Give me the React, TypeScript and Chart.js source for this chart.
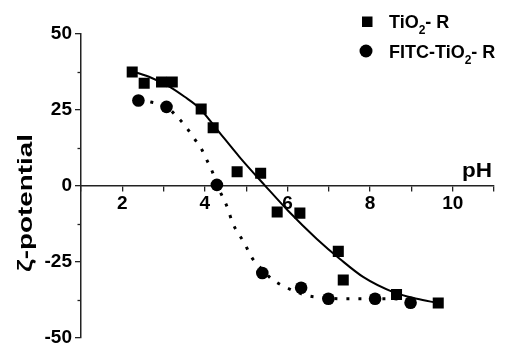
import React, { useEffect, useRef } from 'react';
import { Chart, registerables } from 'chart.js';

Chart.register(...registerables);

const tio2PH = [2.24, 2.53, 2.95, 3.21, 3.91, 4.2, 4.78, 5.35, 5.75, 6.3, 7.23, 7.35, 8.64, 9.65];
const tio2Zeta = [37.5, 33.8, 34.2, 34.2, 25.3, 19.1, 4.6, 4.1, -8.6, -9.0, -21.6, -31.0, -35.8, -38.6];
const fitcPH = [2.39, 3.07, 4.29, 5.39, 6.33, 6.99, 8.12, 8.98];
const fitcZeta = [28.1, 26.0, 0.3, -28.7, -33.6, -37.2, -37.2, -38.5];

// Fitted curves
const tio2FitPH = [2.27, 2.7, 3.15, 3.5, 3.88, 4.29, 4.85, 5.46, 6.02, 6.71, 7.27, 7.84, 8.56, 9.13, 9.64];
const tio2FitZeta = [37.6, 35.6, 32.6, 29.4, 25.4, 18.6, 9.3, 0.0, -8.3, -17.5, -24.1, -30.1, -35.0, -37.2, -38.6];
const fitcFitPH = [2.39, 2.69, 3.07, 3.28, 3.53, 3.74, 3.92, 4.06, 4.19, 4.29, 4.43, 4.56, 4.66, 4.97, 5.13, 5.39, 5.62, 5.9, 6.46, 6.75, 7.31, 7.63, 8.4, 8.98];
const fitcFitZeta = [28.1, 27.6, 26.0, 23.4, 19.6, 15.6, 12.0, 8.1, 4.3, 0.3, -3.7, -7.7, -11.9, -19.2, -23.5, -27.6, -30.7, -33.0, -36.1, -36.7, -37.2, -37.2, -37.2, -37.4];

const xMin = 1;
const xMax = 11;
const yMin = -50;
const yMax = 50;
const xLabelTicks = [2, 4, 6, 8, 10];
const yLabelTicks = [-50, -25, 0, 25, 50];

const seriesNames = ['TiO', 'FITC-TiO'];
const xTitle = 'pH';
const yTitle = 'ζ-potential';

const FONT = "'Liberation Sans', Arial, sans-serif";

const toPts = (xs: number[], ys: number[]) => xs.map((x, i) => ({ x, y: ys[i] }));

const overlay = {
  id: 'overlay',
  afterDraw(chart: any) {
    const ctx = chart.ctx as CanvasRenderingContext2D;
    const ys = chart.scales.y;
    ctx.save();
    // minor y ticks
    ctx.strokeStyle = '#222';
    ctx.lineWidth = 1.3;
    for (let v = yMin; v <= yMax; v += 12.5) {
      if (yLabelTicks.includes(v)) continue;
      const py = Math.round(ys.getPixelForValue(v)) + 0.5;
      ctx.beginPath();
      ctx.moveTo(ys.right - 3.5, py);
      ctx.lineTo(ys.right, py);
      ctx.stroke();
    }
    ctx.fillStyle = '#000';
    // legend
    const lx = 389;
    ctx.fillRect(362, 16.5, 10.5, 10.5);
    ctx.beginPath();
    ctx.arc(366, 51, 6.5, 0, Math.PI * 2);
    ctx.fill();
    const drawEntry = (name: string, baseline: number) => {
      ctx.font = `bold 18px ${FONT}`;
      ctx.textBaseline = 'alphabetic';
      ctx.textAlign = 'left';
      ctx.fillText(name, lx, baseline);
      let x = lx + ctx.measureText(name).width;
      ctx.font = `bold 12px ${FONT}`;
      ctx.fillText('2', x, baseline + 6);
      x += ctx.measureText('2').width;
      ctx.font = `bold 18px ${FONT}`;
      ctx.fillText('- R', x, baseline);
    };
    drawEntry(seriesNames[0], 28);
    drawEntry(seriesNames[1], 58);
    // x title
    ctx.font = `bold 21px ${FONT}`;
    const w = ctx.measureText(xTitle).width;
    ctx.save();
    ctx.translate(492, 177);
    ctx.scale(30 / w, 1);
    ctx.textAlign = 'right';
    ctx.fillText(xTitle, 0, 0);
    ctx.restore();
    // y title
    ctx.font = `bold 21px ${FONT}`;
    const wy = ctx.measureText(yTitle).width;
    ctx.save();
    ctx.translate(32, 203);
    ctx.rotate(-Math.PI / 2);
    ctx.scale(138 / wy, 1);
    ctx.textAlign = 'center';
    ctx.textBaseline = 'alphabetic';
    ctx.fillText(yTitle, 0, 0);
    ctx.restore();
    ctx.restore();
  },
};

export default function App() {
  const ref = useRef<HTMLCanvasElement | null>(null);
  useEffect(() => {
    if (!ref.current) return;
    const chart = new Chart(ref.current, {
      type: 'scatter',
      data: {
        datasets: [
          {
            type: 'line',
            label: 'TiO2-R fit',
            data: toPts(tio2FitPH, tio2FitZeta),
            borderColor: '#000',
            borderWidth: 2,
            pointRadius: 0,
            cubicInterpolationMode: 'monotone',
            fill: false,
          } as any,
          {
            type: 'line',
            label: 'FITC-TiO2-R fit',
            data: toPts(fitcFitPH, fitcFitZeta),
            borderColor: '#000',
            borderWidth: 3,
            borderDash: [3, 9],
            pointRadius: 0,
            cubicInterpolationMode: 'monotone',
            fill: false,
          } as any,
          {
            label: 'TiO2- R',
            data: toPts(tio2PH, tio2Zeta),
            pointStyle: 'rect',
            pointRadius: 7.8,
            backgroundColor: '#000',
            borderColor: '#000',
            borderWidth: 0,
          },
          {
            label: 'FITC-TiO2- R',
            data: toPts(fitcPH, fitcZeta),
            pointStyle: 'circle',
            pointRadius: 6.3,
            backgroundColor: '#000',
            borderColor: '#000',
            borderWidth: 0,
          },
        ],
      },
      options: {
        animation: false,
        responsive: false,
        layout: { padding: { left: 0, right: 13, top: 34, bottom: 13 } },
        plugins: { legend: { display: false }, tooltip: { enabled: false } },
        scales: {
          x: {
            type: 'linear',
            min: xMin,
            max: xMax,
            position: { y: 0 } as any,
            ticks: {
              stepSize: 1,
              autoSkip: false,
              maxRotation: 0,
              padding: 2,
              color: '#000',
              font: { family: FONT, weight: 'bold', size: 19 },
              callback: (v: any) => (xLabelTicks.includes(Number(v)) ? String(v) : ''),
            },
            grid: { drawOnChartArea: false, drawTicks: true, tickLength: 5, color: '#222', lineWidth: 1.3 },
            border: { display: true, color: '#222', width: 1.5 },
          },
          y: {
            type: 'linear',
            min: yMin,
            max: yMax,
            position: 'left',
            afterFit: (s: any) => {
              s.width = 81;
            },
            ticks: {
              stepSize: 12.5,
              autoSkip: false,
              padding: 3,
              color: '#000',
              font: { family: FONT, weight: 'bold', size: 19 },
              callback: (v: any) => (yLabelTicks.includes(Number(v)) ? String(v) : ''),
            },
            grid: {
              drawOnChartArea: false,
              drawTicks: true,
              tickLength: 6,
              lineWidth: 1.3,
              color: (c: any) => (c.tick && yLabelTicks.includes(c.tick.value) ? '#222' : 'rgba(0,0,0,0)'),
            },
            border: { display: true, color: '#222', width: 1.5 },
          },
        },
      },
      plugins: [overlay],
    });
    return () => chart.destroy();
  }, []);
  return (
    <div style={{ position: 'fixed', left: 0, top: 0, width: 507, height: 352, background: '#fff' }}>
      <canvas ref={ref} width={507} height={352} />
    </div>
  );
}
